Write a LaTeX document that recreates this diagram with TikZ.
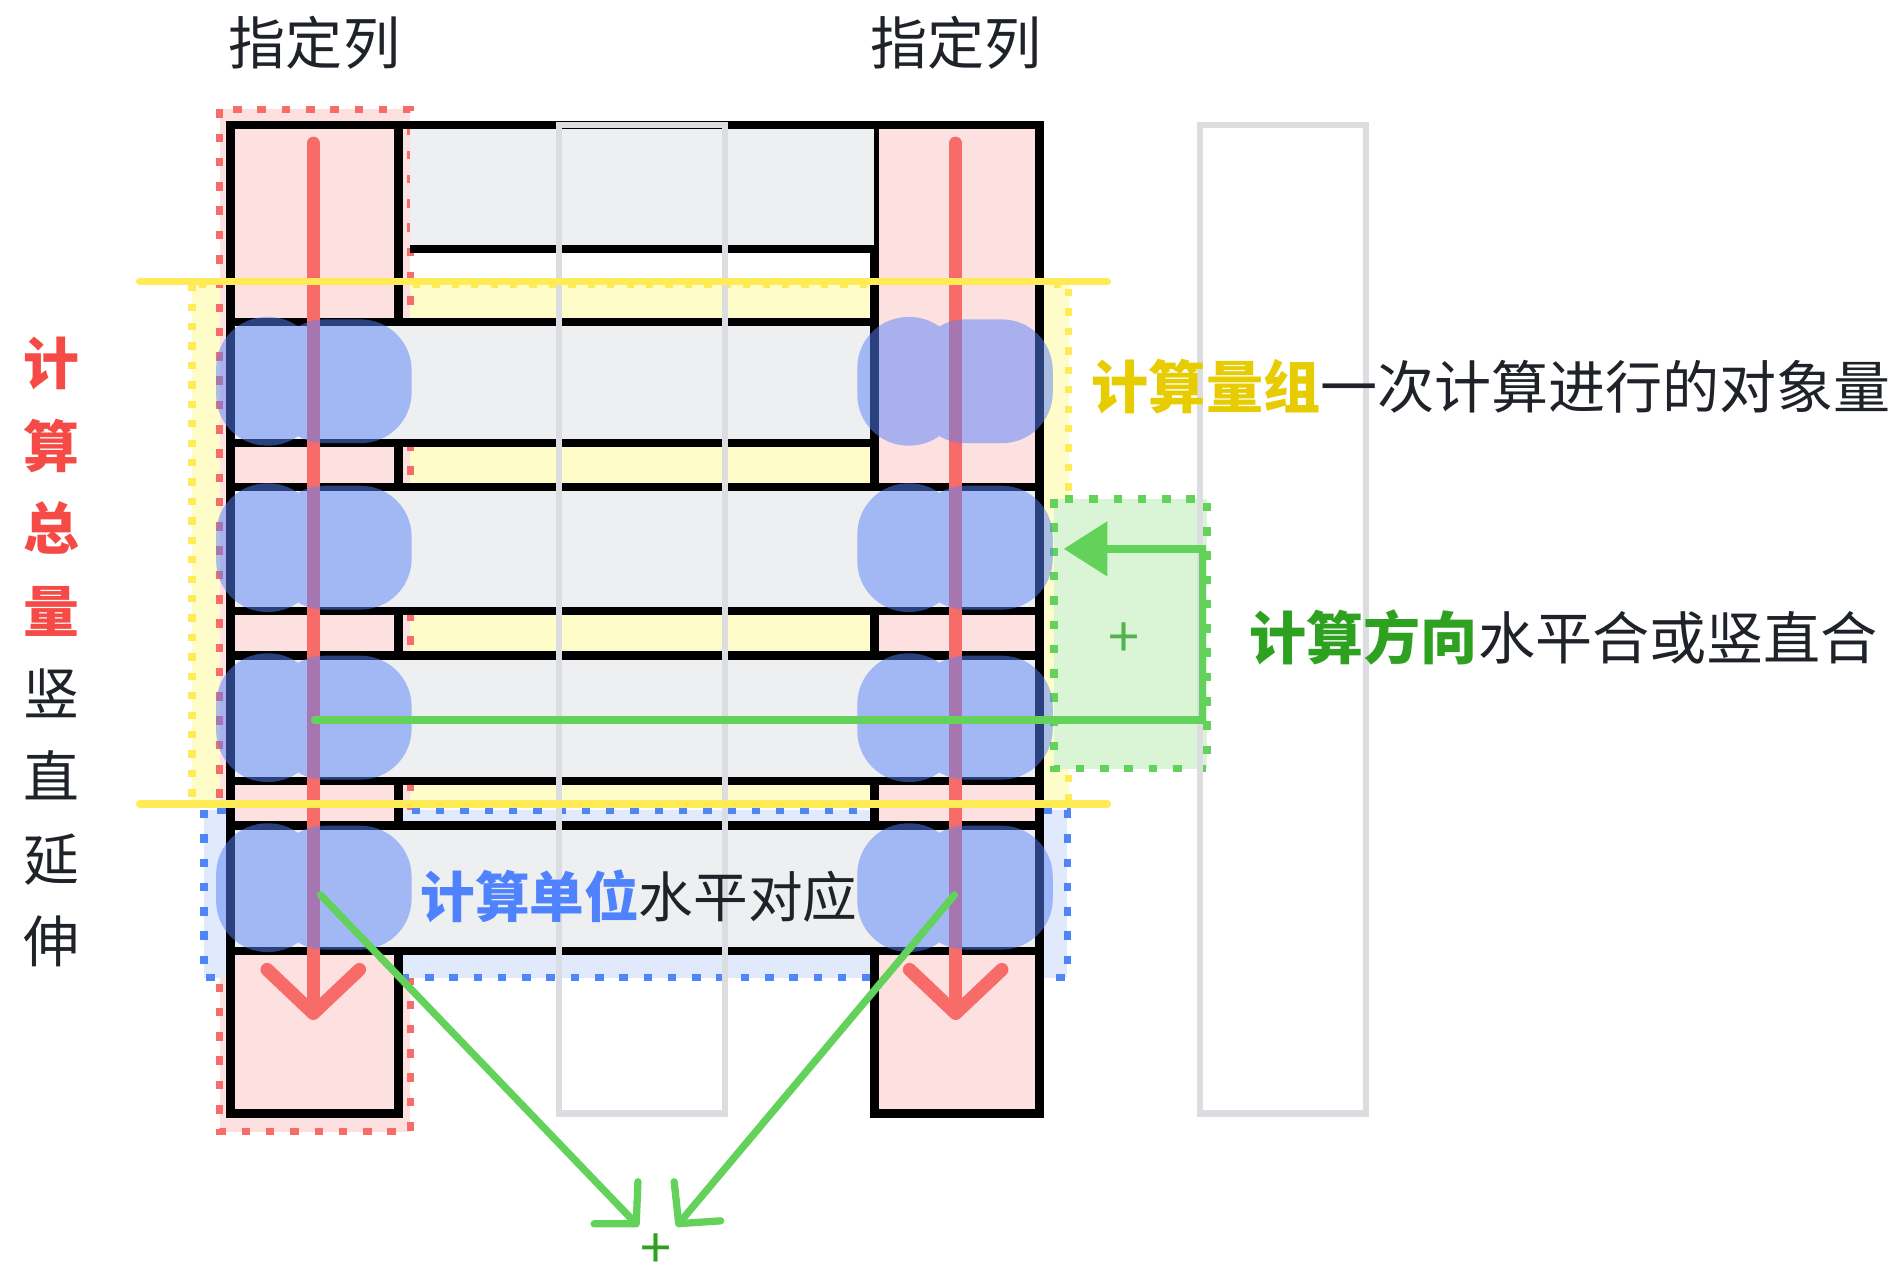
\documentclass[tikz,border=0pt]{standalone}
\usepackage{fontspec}
\usepackage{tikz}
\usetikzlibrary{arrows.meta,positioning}
\newfontfamily\cjk{Noto Sans CJK SC}
\definecolor{colpink}{HTML}{FDE0E0}
\definecolor{rowgrey}{HTML}{EEEFF1}
\definecolor{linegrey}{HTML}{DCDDE1}
\definecolor{sumred}{HTML}{F76B68}
\definecolor{txtred}{HTML}{F54A45}
\definecolor{grpyellow}{HTML}{FFEB55}
\definecolor{grpfill}{HTML}{FEFCC8}
\definecolor{txtyellow}{HTML}{E6CC00}
\definecolor{unitblue}{HTML}{4F86F7}
\definecolor{unitfill}{HTML}{E1E9FC}
\definecolor{txtblue}{HTML}{4E83FD}
\definecolor{dirgreen}{HTML}{62D25A}
\definecolor{dirfill}{HTML}{DAF5D6}
\definecolor{txtgreen}{HTML}{2EA121}
\definecolor{blobblue}{HTML}{5682FA}
\definecolor{ink}{HTML}{1F2329}
\tikzset{
    colbox/.style={draw=black, fill=colpink, line width=7pt},
    rowbox/.style={draw=black, fill=rowgrey, line width=7pt},
    blackline/.style={draw=black, line width=7pt},
    ghostcol/.style={draw=linegrey, line width=5pt},
    zone/.style={line width=6pt, dash pattern=on 7pt off 13pt},
    blob/.style={fill=blobblue, fill opacity=0.5, rounded corners=42pt},
    sumarrow/.style={draw=sumred, line width=11pt, line cap=round,
        -{Straight Barb[length=36pt, width=76pt, round]}},
    unitarrow/.style={draw=dirgreen, line width=6pt, line cap=round,
        -{Straight Barb[length=24pt, width=50pt, round]}},
    dirpath/.style={draw=dirgreen, line width=6pt, line cap=round,
        -{Triangle[length=36pt, width=44pt]}},
    guide/.style={draw=grpyellow, line width=6pt, line cap=round},
    cjktext/.style={font=\cjk\fontsize{47}{56}\selectfont, text=ink, inner sep=0pt},
    sidetext/.style={font=\cjk\fontsize{46}{68}\selectfont, text=ink, inner sep=0pt, align=center},
    plussign/.style={font=\cjk\fontsize{46}{48}\selectfont, inner sep=0pt}
}
\begin{document}
\begin{tikzpicture}[x=1pt, y=-1pt]
    \useasboundingbox (0,0) rectangle (1568,1057);

    % zones
    \draw[zone, draw=grpyellow, fill=grpfill, dash pattern=on 6pt off 10pt] (158,234) rectangle (880,662);
    \draw[zone, draw=sumred, fill=colpink] (181,90) rectangle (338,932);
    \draw[zone, draw=unitblue, fill=unitfill] (168,667) rectangle (879,805);
    \draw[zone, draw=dirgreen, fill=dirfill] (868,411) rectangle (994,633);

    % table
    \draw[colbox] (190,103) rectangle (328,917);
    \draw[colbox] (720,103) rectangle (856,917);
    \fill[rowgrey] (338,103) rectangle (720,205);
    \draw[blackline] (328,103) -- (720,103) (338,205) -- (720,205);
    \draw[rowbox] (190,265) rectangle (720,365);
    \draw[rowbox] (190,401) rectangle (856,503);
    \draw[rowbox] (190,540) rectangle (856,643);
    \draw[rowbox] (190,680) rectangle (856,783);
    \draw[ghostcol] (460,103) rectangle (597,917);
    \draw[ghostcol] (988,103) rectangle (1125,917);

    % sum arrows
    \coordinate (sumLtop) at (258,118);
    \coordinate (sumLend) at (258,840);
    \coordinate (sumRtop) at (787,118);
    \coordinate (sumRend) at (787,840);
    \draw[sumarrow] (sumLtop) -- (sumLend);
    \draw[sumarrow] (sumRtop) -- (sumRend);

    % units
    \foreach \cx in {259,787}
        \foreach \cy in {314,451,591,731}
            \fill[blob] (\cx-81,\cy-53) rectangle (\cx+4,\cy+53)
                        (\cx-34,\cy-51) rectangle (\cx+80,\cy+51);

    % direction
    \coordinate (dirstart) at (259,593);
    \coordinate (dirturn) at (990,593);
    \coordinate (dirup) at (990,452);
    \coordinate (dirend) at (876,452);
    \draw[dirpath] (dirstart) -- (dirturn) -- (dirup) -- (dirend);
    \node[plussign, text=dirgreen!85!black] (dirplus) at (926,527) {+};

    \node[plussign, text=txtgreen] (unitplus) at (540,1030) {+};
    \coordinate (unitL) at (264,737);
    \coordinate (unitR) at (786,737);
    \coordinate (unitLend) at (526,1010);
    \coordinate (unitRend) at (557,1010);
    \draw[unitarrow] (unitL) -- (unitLend);
    \draw[unitarrow] (unitR) -- (unitRend);

    % group bounds
    \draw[guide] (115,232) -- (912,232);
    \draw[guide] (115,662) -- (912,662);

    % texts
    \node[cjktext] (headL) at (259,35) {指定列};
    \node[cjktext] (headR) at (787,35) {指定列};
    \node[sidetext] (sumtxt) at (42,537) {\textbf{\textcolor{txtred}{计}}\\\textbf{\textcolor{txtred}{算}}\\\textbf{\textcolor{txtred}{总}}\\\textbf{\textcolor{txtred}{量}}\\竖\\直\\延\\伸};
    \node[cjktext, anchor=west] (grouptxt) at (899,318) {\textbf{\textcolor{txtyellow}{计算量组}}一次计算进行的对象量};
    \node[cjktext, anchor=west] (dirtxt) at (1029,525) {\textbf{\textcolor{txtgreen}{计算方向}}水平合或竖直合};
    \node[cjktext, font=\cjk\fontsize{45}{54}\selectfont, anchor=west] (unittxt) at (346,738) {\textbf{\textcolor{txtblue}{计算单位}}水平对应};
\end{tikzpicture}
\end{document}
